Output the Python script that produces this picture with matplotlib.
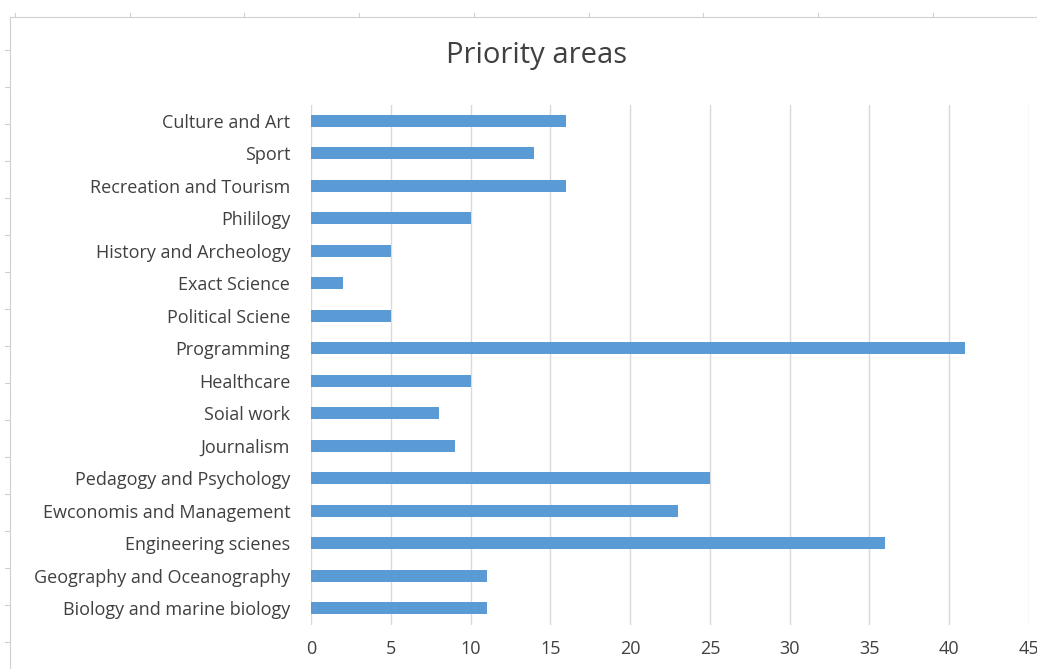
import numpy as np
import matplotlib.pyplot as plt
from matplotlib.lines import Line2D

# categories listed bottom to top, as drawn
areas = ["Biology and marine biology", "Geography and Oceanography",
         "Engineering scienes", "Ewconomis and Management",
         "Pedagogy and Psychology", "Journalism", "Soial work", "Healthcare",
         "Programming", "Political Sciene", "Exact Science",
         "History and Archeology", "Phililogy", "Recreation and Tourism",
         "Sport", "Culture and Art"]
counts = [11, 11, 36, 23, 25, 9, 8, 10, 41, 5, 2, 5, 10, 16, 14, 16]
xticks = [0, 5, 10, 15, 20, 25, 30, 35, 40, 45]

plt.rcParams['font.family'] = ['Open Sans', 'DejaVu Sans']
txt = '#404040'

fig = plt.figure(figsize=(10.37, 6.69), dpi=100)

# faint spreadsheet cell borders behind the chart
W, H = 1037, 669
fig.add_artist(Line2D([10 / W, 1], [1 - 17 / H, 1 - 17 / H], color='#d0d0d0', lw=0.8))
fig.add_artist(Line2D([10 / W, 10 / W], [0, 1 - 17 / H], color='#d0d0d0', lw=0.8))
for px in np.arange(15, W, 114.7):
    fig.add_artist(Line2D([px / W, px / W], [1 - 13 / H, 1 - 17 / H], color='#d0d0d0', lw=0.8))
for py in np.arange(50, H, 37):
    fig.add_artist(Line2D([5 / W, 10 / W], [1 - py / H, 1 - py / H], color='#d0d0d0', lw=0.8))

ax = fig.add_axes([311 / W, 1 - 624.5 / H, (1029 - 311) / W, (624.5 - 104.5) / H])
y = np.arange(len(areas))
ax.barh(y, counts, height=0.37, color='#5b9bd5', zorder=3)

ax.set_xlim(0, 45)
ax.set_ylim(-0.5, len(areas) - 0.5)
ax.set_xticks(xticks)
ax.set_yticks(y)
ax.set_yticklabels(areas)
ax.grid(axis='x', color='#d9d9d9', lw=1.0, zorder=0)
for s in ax.spines.values():
    s.set_visible(False)
ax.tick_params(axis='both', length=0, labelsize=13, colors=txt)
ax.tick_params(axis='y', pad=15)
ax.tick_params(axis='x', pad=11)

fig.text(537 / W, 1 - 56 / H, "Priority areas", ha='center', va='center',
         fontsize=21, color=txt)

fig.savefig("out.png", dpi=100)
